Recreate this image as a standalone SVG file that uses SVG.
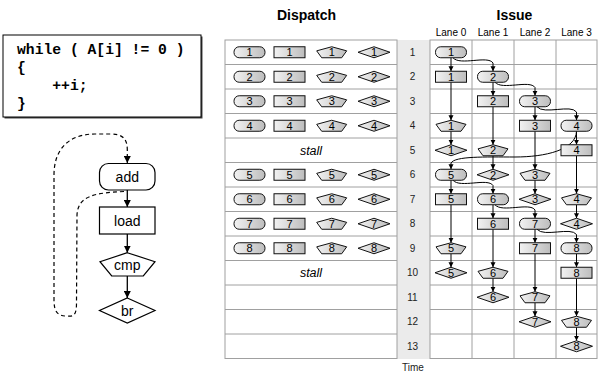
<svg xmlns="http://www.w3.org/2000/svg" xmlns:xlink="http://www.w3.org/1999/xlink" width="598" height="375" viewBox="0 0 598 375">
<style>
.t{font-family:"Liberation Sans",Arial,sans-serif;fill:#000}
.title{font-size:14px;font-weight:bold;text-anchor:middle}
.lane{font-size:10px;text-anchor:middle}
.num{font-size:11px;text-anchor:middle}
.tn{font-size:10px;text-anchor:middle;fill:#222}
.stall{font-size:12.5px;font-style:italic;text-anchor:middle}
.code{font-family:"Liberation Mono","Courier New",monospace;font-weight:bold;font-size:14.7px;fill:#000}
.fc{font-family:"Liberation Sans",Arial,sans-serif;font-size:14px;text-anchor:middle}
.shp{fill:url(#gr);stroke:#111;stroke-width:1}
.fcs{fill:#fff;stroke:#000;stroke-width:1.2}
.grid{stroke:#a0a0a0;stroke-width:1;fill:none}
.cn{stroke:#000;stroke-width:1;fill:none;marker-end:url(#ah)}
.fcn{stroke:#000;stroke-width:1.3;fill:none;marker-end:url(#ah2)}
</style>
<defs>
<linearGradient id="gr" x1="0" y1="0" x2="1" y2="0">
<stop offset="0" stop-color="#f2f2f2"/>
<stop offset="1" stop-color="#bdbdbd"/>
</linearGradient>
<marker id="ah" viewBox="0 0 6 6" refX="6" refY="3" markerWidth="5" markerHeight="5.5" orient="auto" markerUnits="userSpaceOnUse"><path d="M0,0 L6,3 L0,6 z" fill="#000"/></marker>
<marker id="ah2" viewBox="0 0 6 6" refX="6" refY="3" markerWidth="7" markerHeight="7" orient="auto" markerUnits="userSpaceOnUse"><path d="M0,0 L6,3 L0,6 z" fill="#000"/></marker>
<rect id="rr" x="-15.5" y="-5.5" width="31" height="11" rx="5.2" class="shp"/>
<rect id="rc" x="-15.5" y="-5.5" width="31" height="11" class="shp"/>
<polygon id="pt" points="0,-5.5 15,-1.4 10,5.5 -10,5.5 -15,-1.4" class="shp"/>
<polygon id="dm" points="0,-5.5 16,0 0,5.5 -16,0" class="shp"/>
</defs>
<rect width="598" height="375" fill="#fff"/>

<!-- code box -->
<g id="code">
<rect x="4.5" y="36.5" width="198" height="82" fill="#444"/>
<rect x="3" y="35" width="198" height="82" fill="#fff" stroke="#000" stroke-width="1"/>
<text class="code" x="17" y="53.5">while ( A[i] != 0 )</text>
<text class="code" x="17" y="71.5">{</text>
<text class="code" x="52.3" y="90">++i;</text>
<text class="code" x="17" y="108">}</text>
</g>

<!-- flowchart -->
<g id="fc-connectors">
<path d="M124,191.5 C96,193 78,195 77,215 L76.5,303 C76.5,318 72,316 66,316 C58,316 54,312 54,300 L54,175 C54,148 70,134 95,134 L110,134 C122,134 127.3,138 127.3,150 L127.3,163" fill="none" stroke="#000" stroke-width="1.2" stroke-dasharray="4,3" marker-end="url(#ah2)"/>
<path class="fcn" d="M127.3,190 L127.3,207"/>
<path class="fcn" d="M127.3,234 L127.3,252.7"/>
<path class="fcn" d="M127.3,276 L127.3,298"/>
</g>
<g id="fc-add"><rect class="fcs" x="99.5" y="163.5" width="55.5" height="26.5" rx="9"/><text class="fc" x="127.3" y="182">add</text></g>
<g id="fc-load"><rect class="fcs" x="99.5" y="207" width="55.5" height="27"/><text class="fc" x="127.3" y="225.5">load</text></g>
<g id="fc-cmp"><polygon class="fcs" points="127.3,252.7 155,261.7 143.3,276 111.7,276 100,261.7"/><text class="fc" x="127.3" y="269.5">cmp</text></g>
<g id="fc-br"><polygon class="fcs" points="127.3,298 155,310.5 127.3,323 99.5,310.5"/><text class="fc" x="127.3" y="315.5">br</text></g>

<!-- titles -->
<text class="t title" x="306.5" y="19.5">Dispatch</text>
<text class="t title" x="514.5" y="19.5">Issue</text>
<text class="t lane" x="451" y="36">Lane 0</text>
<text class="t lane" x="493" y="36">Lane 1</text>
<text class="t lane" x="535" y="36">Lane 2</text>
<text class="t lane" x="576.5" y="36">Lane 3</text>

<!-- time column -->
<g id="time">
<rect x="397" y="40" width="33" height="319" fill="#ebebeb"/>
<text class="t tn" x="412.5" y="55.6">1</text>
<text class="t tn" x="412.5" y="80.1">2</text>
<text class="t tn" x="412.5" y="104.6">3</text>
<text class="t tn" x="412.5" y="129.1">4</text>
<text class="t tn" x="412.5" y="153.6">5</text>
<text class="t tn" x="412.5" y="178.1">6</text>
<text class="t tn" x="412.5" y="202.6">7</text>
<text class="t tn" x="412.5" y="227.1">8</text>
<text class="t tn" x="412.5" y="251.6">9</text>
<text class="t tn" x="412.5" y="276.1">10</text>
<text class="t tn" x="412.5" y="300.6">11</text>
<text class="t tn" x="412.5" y="325.1">12</text>
<text class="t tn" x="412.5" y="349.6">13</text>
<text class="t tn" x="413" y="371">Time</text>
</g>

<!-- dispatch grid -->
<g id="dispatch-grid" class="grid">
<rect x="225" y="40" width="172" height="318.5"/>
<path d="M225,64.5H397M225,89H397M225,113.5H397M225,138H397M225,162.5H397M225,187H397M225,211.5H397M225,236H397M225,260.5H397M225,285H397M225,309.5H397M225,334H397"/>
</g>
<text class="t stall" x="311" y="154.5">stall</text>
<text class="t stall" x="311" y="277">stall</text>

<!-- issue grid -->
<g id="issue-grid" class="grid">
<rect x="430" y="40" width="167" height="318.5"/>
<path d="M472,40V358.5M514,40V358.5M556,40V358.5"/>
<path d="M430,64.5H597M430,89H597M430,113.5H597M430,138H597M430,162.5H597M430,187H597M430,211.5H597M430,236H597M430,260.5H597M430,285H597M430,309.5H597M430,334H597"/>
</g>

<!-- dispatch nodes -->
<g id="d1"><use href="#rr" x="249.5" y="52.25"/><use href="#rc" x="289.5" y="52.25"/><use href="#pt" x="331.7" y="52.25"/><use href="#dm" x="374" y="52.25"/>
<text class="t num" x="249.5" y="56.2">1</text><text class="t num" x="289.5" y="56.2">1</text><text class="t num" x="331.7" y="56.2">1</text><text class="t num" x="374" y="56.2">1</text></g>
<g id="d2"><use href="#rr" x="249.5" y="76.75"/><use href="#rc" x="289.5" y="76.75"/><use href="#pt" x="331.7" y="76.75"/><use href="#dm" x="374" y="76.75"/>
<text class="t num" x="249.5" y="80.7">2</text><text class="t num" x="289.5" y="80.7">2</text><text class="t num" x="331.7" y="80.7">2</text><text class="t num" x="374" y="80.7">2</text></g>
<g id="d3"><use href="#rr" x="249.5" y="101.25"/><use href="#rc" x="289.5" y="101.25"/><use href="#pt" x="331.7" y="101.25"/><use href="#dm" x="374" y="101.25"/>
<text class="t num" x="249.5" y="105.2">3</text><text class="t num" x="289.5" y="105.2">3</text><text class="t num" x="331.7" y="105.2">3</text><text class="t num" x="374" y="105.2">3</text></g>
<g id="d4"><use href="#rr" x="249.5" y="125.75"/><use href="#rc" x="289.5" y="125.75"/><use href="#pt" x="331.7" y="125.75"/><use href="#dm" x="374" y="125.75"/>
<text class="t num" x="249.5" y="129.7">4</text><text class="t num" x="289.5" y="129.7">4</text><text class="t num" x="331.7" y="129.7">4</text><text class="t num" x="374" y="129.7">4</text></g>
<g id="d5"><use href="#rr" x="249.5" y="174.75"/><use href="#rc" x="289.5" y="174.75"/><use href="#pt" x="331.7" y="174.75"/><use href="#dm" x="374" y="174.75"/>
<text class="t num" x="249.5" y="178.7">5</text><text class="t num" x="289.5" y="178.7">5</text><text class="t num" x="331.7" y="178.7">5</text><text class="t num" x="374" y="178.7">5</text></g>
<g id="d6"><use href="#rr" x="249.5" y="199.25"/><use href="#rc" x="289.5" y="199.25"/><use href="#pt" x="331.7" y="199.25"/><use href="#dm" x="374" y="199.25"/>
<text class="t num" x="249.5" y="203.2">6</text><text class="t num" x="289.5" y="203.2">6</text><text class="t num" x="331.7" y="203.2">6</text><text class="t num" x="374" y="203.2">6</text></g>
<g id="d7"><use href="#rr" x="249.5" y="223.75"/><use href="#rc" x="289.5" y="223.75"/><use href="#pt" x="331.7" y="223.75"/><use href="#dm" x="374" y="223.75"/>
<text class="t num" x="249.5" y="227.7">7</text><text class="t num" x="289.5" y="227.7">7</text><text class="t num" x="331.7" y="227.7">7</text><text class="t num" x="374" y="227.7">7</text></g>
<g id="d8"><use href="#rr" x="249.5" y="248.25"/><use href="#rc" x="289.5" y="248.25"/><use href="#pt" x="331.7" y="248.25"/><use href="#dm" x="374" y="248.25"/>
<text class="t num" x="249.5" y="252.2">8</text><text class="t num" x="289.5" y="252.2">8</text><text class="t num" x="331.7" y="252.2">8</text><text class="t num" x="374" y="252.2">8</text></g>

<!-- issue connectors -->
<g id="issue-connectors">
<path class="cn" d="M451,57.75V71.25"/><path class="cn" d="M451,82.25V120.25"/><path class="cn" d="M451,131.25V144.75"/>
<path class="cn" d="M493,82.25V95.75"/><path class="cn" d="M493,106.75V144.75"/><path class="cn" d="M493,155.75V169.25"/>
<path class="cn" d="M535,106.75V120.25"/><path class="cn" d="M535,131.25V169.25"/><path class="cn" d="M535,180.25V193.75"/>
<path class="cn" d="M576.5,131.25V144.75"/><path class="cn" d="M576.5,155.75V193.75"/><path class="cn" d="M576.5,204.75V218.25"/>
<path class="cn" d="M451,180.25V193.75"/><path class="cn" d="M451,204.75V242.75"/><path class="cn" d="M451,253.75V267.25"/>
<path class="cn" d="M493,204.75V218.25"/><path class="cn" d="M493,229.25V267.25"/><path class="cn" d="M493,278.25V291.75"/>
<path class="cn" d="M535,229.25V242.75"/><path class="cn" d="M535,253.75V291.75"/><path class="cn" d="M535,302.75V316.25"/>
<path class="cn" d="M576.5,253.75V267.25"/><path class="cn" d="M576.5,278.25V316.25"/><path class="cn" d="M576.5,327.25V340.75"/>
<path class="cn" d="M453,57.75 C460,66 488,55 493,63 L493,71.25"/>
<path class="cn" d="M495,82.25 C502,90.5 530,79.5 535,87.5 L535,95.75"/>
<path class="cn" d="M537,106.75 C544,115 571,104 576.5,112 L576.5,120.25"/>
<path class="cn" d="M576.5,131.25 C576,150 545,157 515,157 S455,156 451,163 L451,169.25"/>
<path class="cn" d="M453,180.25 C460,188.5 488,177.5 493,185.5 L493,193.75"/>
<path class="cn" d="M495,204.75 C502,213 530,202 535,210 L535,218.25"/>
<path class="cn" d="M537,229.25 C544,237.5 571,226.5 576.5,234.5 L576.5,242.75"/>
</g>

<!-- issue nodes -->
<g id="i1"><use href="#rr" x="451" y="52.25"/><use href="#rc" x="451" y="76.75"/><use href="#pt" x="451" y="125.75"/><use href="#dm" x="451" y="150.25"/>
<text class="t num" x="451" y="56.2">1</text><text class="t num" x="451" y="80.7">1</text><text class="t num" x="451" y="129.7">1</text><text class="t num" x="451" y="154.2">1</text></g>
<g id="i2"><use href="#rr" x="493" y="76.75"/><use href="#rc" x="493" y="101.25"/><use href="#pt" x="493" y="150.25"/><use href="#dm" x="493" y="174.75"/>
<text class="t num" x="493" y="80.7">2</text><text class="t num" x="493" y="105.2">2</text><text class="t num" x="493" y="154.2">2</text><text class="t num" x="493" y="178.7">2</text></g>
<g id="i3"><use href="#rr" x="535" y="101.25"/><use href="#rc" x="535" y="125.75"/><use href="#pt" x="535" y="174.75"/><use href="#dm" x="535" y="199.25"/>
<text class="t num" x="535" y="105.2">3</text><text class="t num" x="535" y="129.7">3</text><text class="t num" x="535" y="178.7">3</text><text class="t num" x="535" y="203.2">3</text></g>
<g id="i4"><use href="#rr" x="576.5" y="125.75"/><use href="#rc" x="576.5" y="150.25"/><use href="#pt" x="576.5" y="199.25"/><use href="#dm" x="576.5" y="223.75"/>
<text class="t num" x="576.5" y="129.7">4</text><text class="t num" x="576.5" y="154.2">4</text><text class="t num" x="576.5" y="203.2">4</text><text class="t num" x="576.5" y="227.7">4</text></g>
<g id="i5"><use href="#rr" x="451" y="174.75"/><use href="#rc" x="451" y="199.25"/><use href="#pt" x="451" y="248.25"/><use href="#dm" x="451" y="272.75"/>
<text class="t num" x="451" y="178.7">5</text><text class="t num" x="451" y="203.2">5</text><text class="t num" x="451" y="252.2">5</text><text class="t num" x="451" y="276.7">5</text></g>
<g id="i6"><use href="#rr" x="493" y="199.25"/><use href="#rc" x="493" y="223.75"/><use href="#pt" x="493" y="272.75"/><use href="#dm" x="493" y="297.25"/>
<text class="t num" x="493" y="203.2">6</text><text class="t num" x="493" y="227.7">6</text><text class="t num" x="493" y="276.7">6</text><text class="t num" x="493" y="301.2">6</text></g>
<g id="i7"><use href="#rr" x="535" y="223.75"/><use href="#rc" x="535" y="248.25"/><use href="#pt" x="535" y="297.25"/><use href="#dm" x="535" y="321.75"/>
<text class="t num" x="535" y="227.7">7</text><text class="t num" x="535" y="252.2">7</text><text class="t num" x="535" y="301.2">7</text><text class="t num" x="535" y="325.7">7</text></g>
<g id="i8"><use href="#rr" x="576.5" y="248.25"/><use href="#rc" x="576.5" y="272.75"/><use href="#pt" x="576.5" y="321.75"/><use href="#dm" x="576.5" y="346.25"/>
<text class="t num" x="576.5" y="252.2">8</text><text class="t num" x="576.5" y="276.7">8</text><text class="t num" x="576.5" y="325.7">8</text><text class="t num" x="576.5" y="350.2">8</text></g>
</svg>
